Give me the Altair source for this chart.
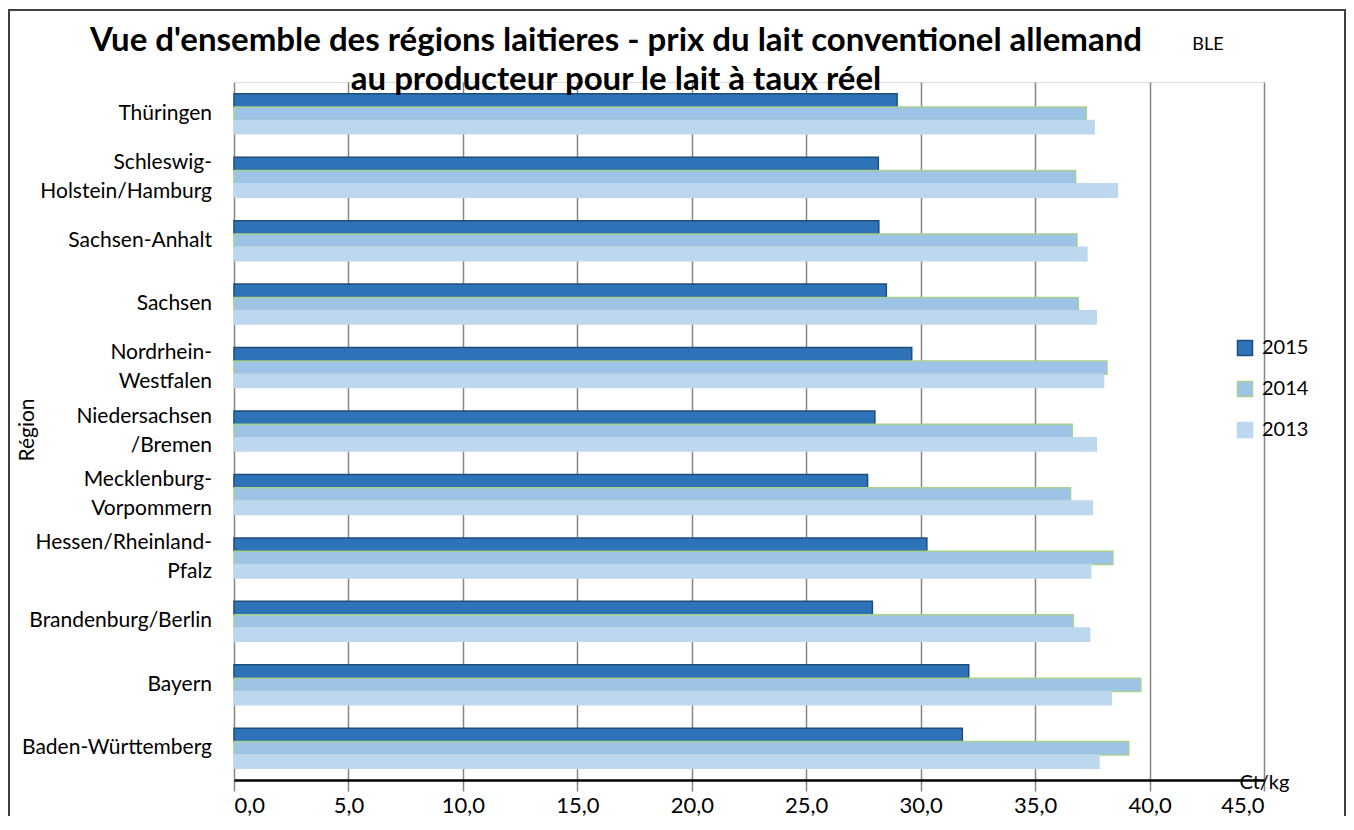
import altair as alt
import pandas as pd

# ---- data ----
regions = [
    "Thüringen",
    "Schleswig-\nHolstein/Hamburg",
    "Sachsen-Anhalt",
    "Sachsen",
    "Nordrhein-\nWestfalen",
    "Niedersachsen\n/Bremen",
    "Mecklenburg-\nVorpommern",
    "Hessen/Rheinland-\nPfalz",
    "Brandenburg/Berlin",
    "Bayern",
    "Baden-Württemberg",
]
years = ["2015", "2014", "2013"]
v2015 = [28.97, 28.15, 28.17, 28.50, 29.61, 28.00, 27.68, 30.27, 27.89, 32.10, 31.82]
v2014 = [37.24, 36.77, 36.83, 36.89, 38.14, 36.62, 36.55, 38.40, 36.66, 39.62, 39.09]
v2013 = [37.58, 38.60, 37.26, 37.67, 37.99, 37.67, 37.50, 37.43, 37.38, 38.33, 37.79]
x_ticks = [0, 5, 10, 15, 20, 25, 30, 35, 40, 45]

fills = ["#2E73B8", "#9DC3E6", "#BDD7EE"]
strokes = ["#1F4E79", "#A9D18E", "#BDD7EE"]

rows = []
for series, vals in zip(years, [v2015, v2014, v2013]):
    for r, v in zip(regions, vals):
        rows.append({"Région": r, "Année": series, "Prix": v})
df = pd.DataFrame(rows)

single_df = pd.DataFrame({"Région": [r for r in regions if "\n" not in r]})
multi_df = pd.DataFrame({"Région": [r for r in regions if "\n" in r]})

FONT = "Lato"
yscale = alt.Scale(domain=regions, paddingInner=0, paddingOuter=0)

bars = alt.Chart(df).mark_bar(strokeWidth=1.5).encode(
    x=alt.X(
        "Prix:Q",
        scale=alt.Scale(domain=[0, 45], nice=False, zero=True),
        axis=alt.Axis(
            values=x_ticks,
            labelExpr="replace(format(datum.value, '.1f'), '.', ',')",
            grid=True,
            gridColor="#868686",
            gridWidth=1.5,
            tickColor="#868686",
            tickWidth=1.5,
            tickSize=11,
            domainColor="#000000",
            domainWidth=2.5,
            labelFontSize=22,
            labelFont=FONT,
            labelColor="#000000",
            labelPadding=4,
            title="Ct/kg",
            titleFont=FONT,
            titleFontSize=20,
            titleFontWeight="normal",
            titleColor="#000000",
            titleX=1030,
            titleY=8,
            titleAlign="center",
            titleBaseline="alphabetic",
        ),
    ),
    y=alt.Y(
        "Région:N",
        scale=yscale,
        axis=alt.Axis(
            labels=False,
            tickBand="extent",
            tickSize=8,
            tickColor="#000000",
            tickWidth=1.5,
            domainColor="#000000",
            domainWidth=1.5,
            grid=False,
            title=None,
        ),
    ),
    yOffset=alt.YOffset(
        "Année:N", sort=years, scale=alt.Scale(paddingInner=0, paddingOuter=0.88)
    ),
    fill=alt.Fill(
        "Année:N",
        scale=alt.Scale(domain=years, range=fills),
        legend=alt.Legend(
            title=None,
            orient="none",
            legendX=1001,
            legendY=256,
            symbolType="square",
            symbolSize=225,
            symbolStrokeWidth=1.5,
            labelFontSize=20,
            labelFont=FONT,
            labelColor="#000000",
            labelOffset=7,
            rowPadding=19,
            padding=0,
        ),
    ),
    stroke=alt.Stroke(
        "Année:N",
        scale=alt.Scale(domain=years, range=strokes),
        legend=None,
    ),
)

label_style = dict(font=FONT, fontSize=21, color="#000000", align="right", baseline="middle")
single_labels = alt.Chart(single_df).mark_text(**label_style).encode(
    y=alt.Y("Région:N", scale=yscale, axis=None),
    x=alt.value(-22),
    text="Région:N",
)
multi_labels = alt.Chart(multi_df).mark_text(
    lineBreak="\n", lineHeight=29, dy=-14.5, **label_style
).encode(
    y=alt.Y("Région:N", scale=yscale, axis=None),
    x=alt.value(-22),
    text="Région:N",
)

ytitle = alt.Chart(pd.DataFrame({"t": ["Région"]})).mark_text(
    font=FONT, fontSize=21, color="#000000", align="center", baseline="middle", angle=270
).encode(text="t:N", x=alt.value(-206), y=alt.value(348))

ble = alt.Chart(pd.DataFrame({"t": ["BLE"]})).mark_text(
    font=FONT, fontSize=18, color="#000000", align="center", baseline="middle"
).encode(text="t:N", x=alt.value(974), y=alt.value(-37))

frame = alt.Chart(pd.DataFrame({"t": [0]})).mark_rect(
    fillOpacity=0, stroke="#404040", strokeWidth=2
).encode(x=alt.value(-225), x2=alt.value(1111), y=alt.value(-72), y2=alt.value(760))

chart = alt.layer(frame, bars, single_labels, multi_labels, ytitle, ble).properties(
    width=1030,
    height=698,
    autosize=alt.AutoSizeParams(type="none"),
    padding={"left": 226, "top": 74, "right": 82, "bottom": 36},
    title=alt.TitleParams(
        text=[
            "Vue d'ensemble des régions laitieres - prix du lait conventionel allemand",
            "au producteur pour le lait à taux réel",
        ],
        font=FONT,
        fontSize=33,
        fontWeight="bold",
        color="#000000",
        anchor="middle",
        frame="group",
        dx=-133,
        dy=82,
        lineHeight=39,
        offset=-6,
    ),
).configure_view(stroke=None).configure(background="white")

chart.save("out.html", embed_options={"renderer": "svg", "actions": False})
